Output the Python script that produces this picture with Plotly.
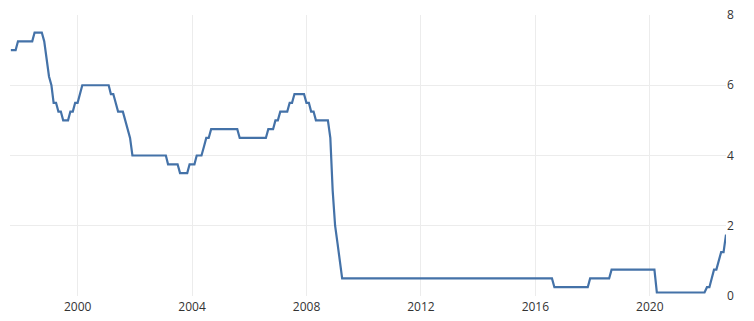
import plotly.graph_objects as go

# Vertices of the monthly series (month-end), UK Bank Rate (%)
dates = [
    "1997-08-31", "1997-10-31", "1997-11-30", "1998-05-31", "1998-06-30", "1998-09-30",
    "1998-10-31", "1998-11-30", "1998-12-31", "1999-01-31", "1999-02-28", "1999-03-31",
    "1999-04-30", "1999-05-31", "1999-06-30", "1999-08-31", "1999-09-30", "1999-10-31",
    "1999-11-30", "1999-12-31", "2000-01-31", "2000-02-29", "2001-01-31", "2001-02-28",
    "2001-03-31", "2001-04-30", "2001-05-31", "2001-07-31", "2001-08-31", "2001-09-30",
    "2001-10-31", "2001-11-30", "2003-01-31", "2003-02-28", "2003-06-30", "2003-07-31",
    "2003-10-31", "2003-11-30", "2004-01-31", "2004-02-29", "2004-04-30", "2004-05-31",
    "2004-06-30", "2004-07-31", "2004-08-31", "2005-07-31", "2005-08-31", "2006-07-31",
    "2006-08-31", "2006-10-31", "2006-11-30", "2006-12-31", "2007-01-31", "2007-04-30",
    "2007-05-31", "2007-06-30", "2007-07-31", "2007-11-30", "2007-12-31", "2008-01-31",
    "2008-02-29", "2008-03-31", "2008-04-30", "2008-09-30", "2008-10-31", "2008-11-30",
    "2008-12-31", "2009-01-31", "2009-02-28", "2009-03-31", "2016-07-31", "2016-08-31",
    "2017-10-31", "2017-11-30", "2018-07-31", "2018-08-31", "2020-02-29", "2020-03-31",
    "2021-11-30", "2021-12-31", "2022-01-31", "2022-02-28", "2022-03-31", "2022-04-30",
    "2022-05-31", "2022-06-30", "2022-07-31", "2022-08-31",
]
rates = [
    7.0, 7.0, 7.25, 7.25, 7.5, 7.5,
    7.25, 6.75, 6.25, 6.0, 5.5, 5.5,
    5.25, 5.25, 5.0, 5.0, 5.25, 5.25,
    5.5, 5.5, 5.75, 6.0, 6.0, 5.75,
    5.75, 5.5, 5.25, 5.25, 5.0, 4.75,
    4.5, 4.0, 4.0, 3.75, 3.75, 3.5,
    3.5, 3.75, 3.75, 4.0, 4.0, 4.25,
    4.5, 4.5, 4.75, 4.75, 4.5, 4.5,
    4.75, 4.75, 5.0, 5.0, 5.25, 5.25,
    5.5, 5.5, 5.75, 5.75, 5.5, 5.5,
    5.25, 5.25, 5.0, 5.0, 4.5, 3.0,
    2.0, 1.5, 1.0, 0.5, 0.5, 0.25,
    0.25, 0.5, 0.5, 0.75, 0.75, 0.1,
    0.1, 0.25, 0.25, 0.5, 0.75, 0.75,
    1.0, 1.25, 1.25, 1.75,
]
x_ticks = ["2000-01-01", "2004-01-01", "2008-01-01", "2012-01-01", "2016-01-01", "2020-01-01"]
x_labels = ["2000", "2004", "2008", "2012", "2016", "2020"]
y_ticks = [0, 2, 4, 6, 8]

fig = go.Figure()
fig.add_trace(go.Scatter(
    x=dates, y=rates, mode="lines",
    line=dict(color="#4472a8", width=2.2),
    hoverinfo="x+y",
))

fig.update_layout(
    width=754, height=321,
    margin=dict(l=10, r=28, t=15, b=25),
    paper_bgcolor="white", plot_bgcolor="white",
    showlegend=False,
    font=dict(family="Open Sans, Segoe UI, sans-serif", size=12, color="#333333"),
    xaxis=dict(
        type="date",
        range=["1997-08-20", "2022-08-31"],
        tickvals=x_ticks, ticktext=x_labels,
        showgrid=True, gridcolor="#ececec", gridwidth=1,
        zeroline=False, showline=False, ticks="",
        ticklabelstandoff=2, automargin=False,
    ),
    yaxis=dict(
        range=[0, 8], side="right",
        tickvals=y_ticks,
        showgrid=True, gridcolor="#ececec", gridwidth=1,
        zeroline=False, showline=False, ticks="",
        automargin=False,
    ),
)

fig.write_html("out.html")
